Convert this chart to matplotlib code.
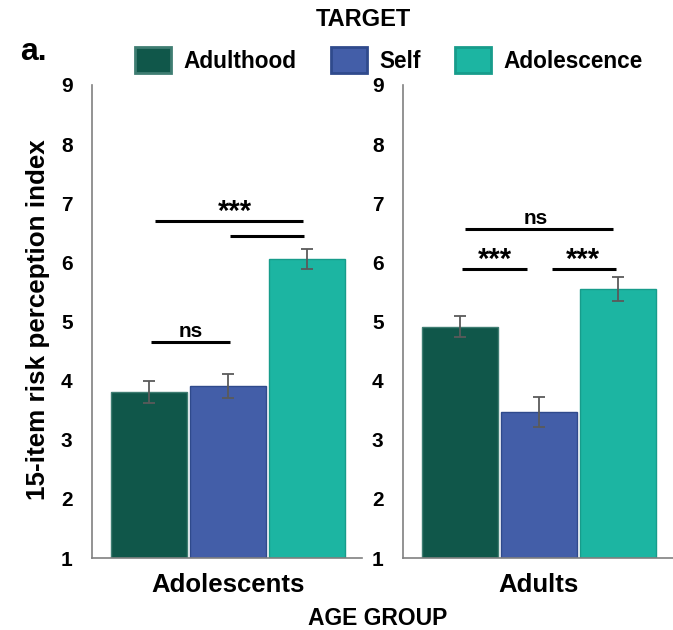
import matplotlib.pyplot as plt
from matplotlib.patches import Patch

plt.rcParams['font.family'] = ['Liberation Sans', 'DejaVu Sans']
plt.rcParams['font.weight'] = 'bold'

# data
age_groups = ['Adolescents', 'Adults']
targets = ['Adulthood', 'Self', 'Adolescence']
means_adolescents = [3.81, 3.91, 6.06]
errs_adolescents = [0.18, 0.20, 0.17]
means_adults = [4.91, 3.47, 5.55]
errs_adults = [0.18, 0.25, 0.21]
colors = ['#10574A', '#435EA8', '#1CB5A2']
edges = ['#3f7d72', '#2f4a8c', '#179c8b']

# significance brackets: (x start, x end, y, label, label x)
brackets_adolescents = [(0.08, 1.95, 6.70, '***', 1.09),
                        (1.03, 1.96, 6.45, '', None),
                        (0.03, 1.03, 4.65, 'ns', 0.53)]
brackets_adults = [(0.07, 1.94, 6.56, 'ns', 0.96),
                   (0.03, 0.85, 5.89, '***', 0.45),
                   (1.17, 1.98, 5.89, '***', 1.56)]

W, H = 673, 630
fig = plt.figure(figsize=(W / 100, H / 100), dpi=100)

ax_w = 270 / W
ax_b = (H - 558) / H
ax_h = (558 - 85) / H
ax1 = fig.add_axes([92 / W, ax_b, ax_w, ax_h])
ax2 = fig.add_axes([403 / W, ax_b, ax_w, ax_h])


def draw_panel(ax, means, errs, brackets, group):
    x = range(len(means))
    ax.bar(x, [m - 1 for m in means], bottom=1, width=0.962,
           color=colors, edgecolor=edges, linewidth=1)
    ax.errorbar(x, means, yerr=errs, fmt='none', ecolor='#5a5a5a',
                elinewidth=1.3, capsize=4, capthick=1.3)
    for x0, x1, y, label, lx in brackets:
        ax.plot([x0, x1], [y, y], color='black', lw=2.2, solid_capstyle='butt')
        if label == '***':
            ax.text(lx, y + 0.02, label, ha='center', va='baseline',
                    fontsize=21, fontweight='bold')
        elif label:
            ax.text(lx, y + 0.09, label, ha='center', va='baseline',
                    fontsize=15, fontweight='bold')
    ax.set_xlim(-0.72, 2.70)
    ax.set_ylim(1, 9)
    ax.set_yticks(range(1, 10))
    ax.set_xticks([1])
    ax.set_xticklabels([group], fontsize=18.5, fontweight='bold')
    ax.tick_params(axis='y', length=0, pad=14, labelsize=15)
    ax.tick_params(axis='x', length=0, pad=11)
    for lab in ax.get_yticklabels():
        lab.set_fontweight('bold')
    ax.spines['top'].set_visible(False)
    ax.spines['right'].set_visible(False)
    ax.spines['left'].set_color('#808080')
    ax.spines['bottom'].set_color('#808080')
    ax.spines['left'].set_linewidth(1.2)
    ax.spines['bottom'].set_linewidth(1.2)


draw_panel(ax1, means_adolescents, errs_adolescents, brackets_adolescents, age_groups[0])
draw_panel(ax2, means_adults, errs_adults, brackets_adults, age_groups[1])

handles = [Patch(facecolor=c, edgecolor=e, linewidth=2) for c, e in zip(colors, edges)]
fig.legend(handles, targets, loc='center', bbox_to_anchor=(389 / W, 1 - 60 / H),
           ncol=3, frameon=False, fontsize=16.3, handlelength=1.6, handleheight=1.33,
           handletextpad=0.55, columnspacing=1.5)

fig.text(363 / W, 1 - 20 / H, 'TARGET', ha='center', va='center', fontsize=17, fontweight='bold')
fig.text(378 / W, 1 - 625 / H, 'AGE GROUP', ha='center', va='baseline', fontsize=16.5, fontweight='bold')
fig.text(20 / W, 1 - 60 / H, 'a.', ha='left', va='baseline', fontsize=23, fontweight='bold')
fig.text(38 / W, 1 - 320 / H, '15-item risk perception index', rotation=90,
         ha='center', va='center', fontsize=18.7, fontweight='bold')

fig.savefig('out.png', dpi=100)
